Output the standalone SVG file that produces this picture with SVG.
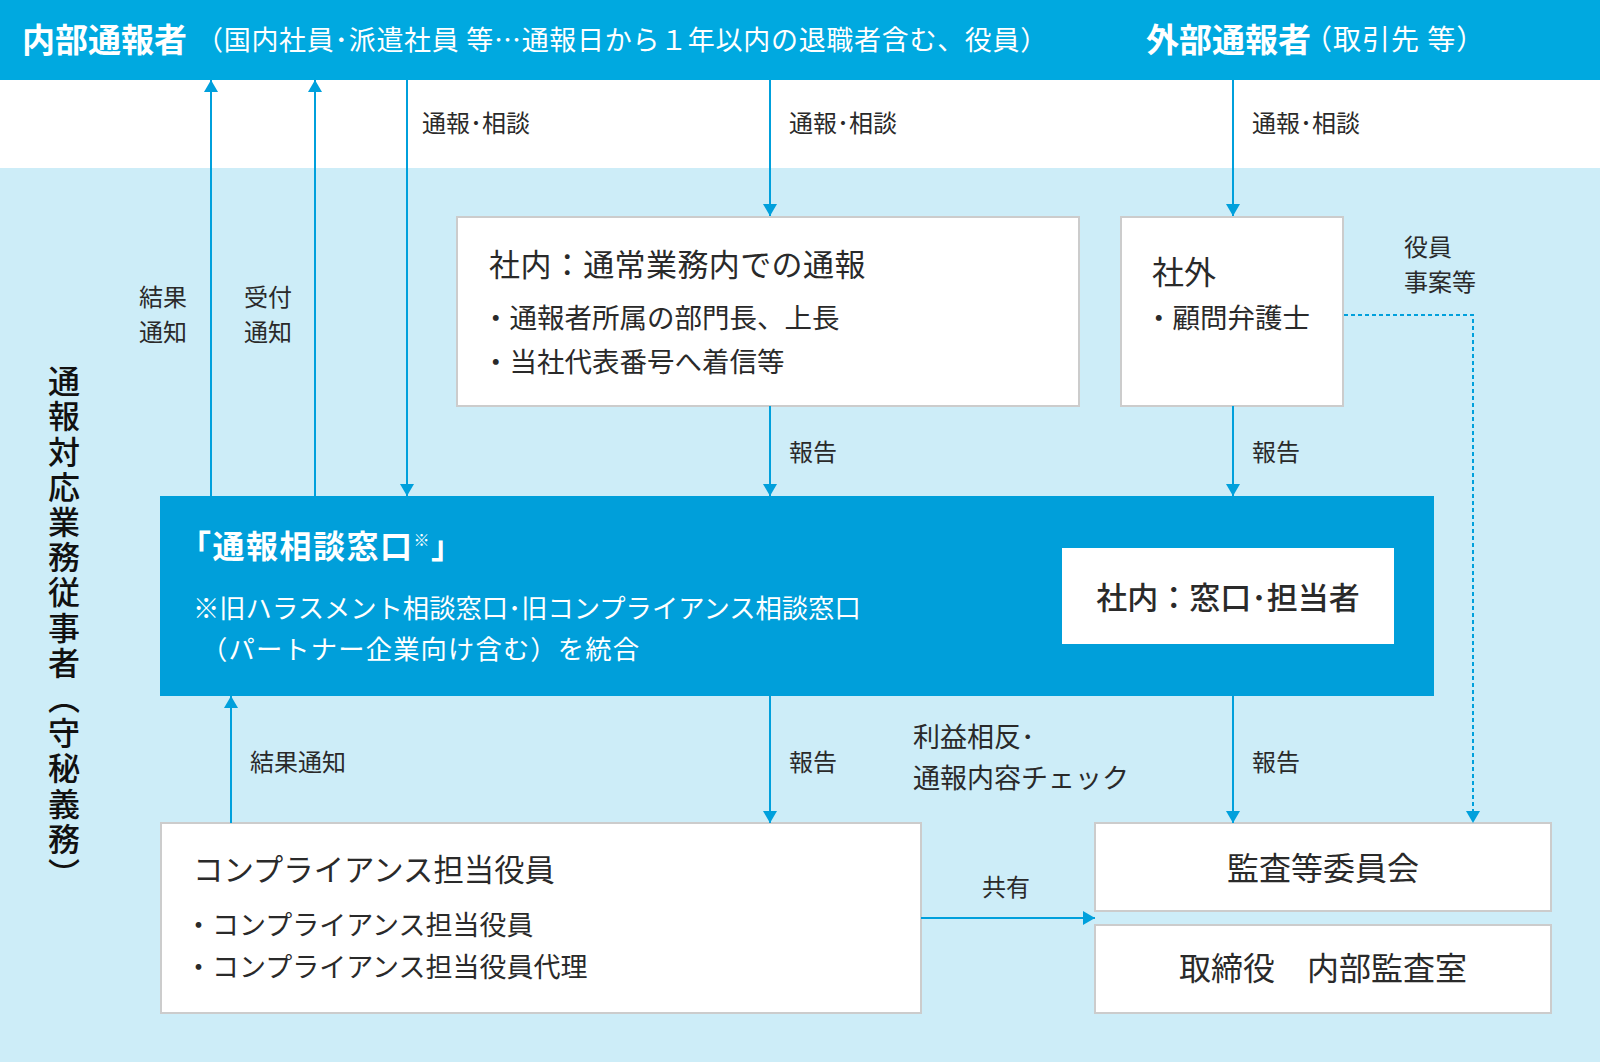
<svg xmlns="http://www.w3.org/2000/svg" width="1600" height="1062" viewBox="0 0 1600 1062">
<style>
text { font-family: "Noto Sans CJK JP", "Noto Sans", sans-serif; fill: #2a2a2a; }
.w { fill: #ffffff; }
.b { font-weight: 700; }
.lbl { font-size: 24px; }
.ttl { font-size: 31px; letter-spacing: 0.4px; }
.bul { font-size: 27.5px; }
.bul2 { font-size: 27px; }
.box { fill: #ffffff; stroke: #cccccc; stroke-width: 2; }
.ln { stroke: #00a0dc; stroke-width: 2; fill: none; }
.dot { stroke: #00a0dc; stroke-width: 2; fill: none; stroke-dasharray: 4 3; }
</style>
<defs>
<marker id="ah" viewBox="0 0 12 14" refX="12" refY="7" markerWidth="12" markerHeight="14" markerUnits="userSpaceOnUse" orient="auto">
<path d="M0,0 L12,7 L0,14 z" fill="#00a0dc"/>
</marker>
</defs>

<g id="background">
<rect x="0" y="0" width="1600" height="80" fill="#00a9e0"/>
<rect x="0" y="80" width="1600" height="88" fill="#ffffff"/>
<rect x="0" y="168" width="1600" height="894" fill="#cdedf8"/>
</g>

<g id="header-internal">
<text x="22" y="52" class="w b" font-size="33">内部通報者</text>
<text x="196" y="50" class="w" font-size="27" letter-spacing="0.7">（国内社員･派遣社員 等…通報日から１年以内の退職者含む、役員）</text>
</g>
<g id="header-external">
<text x="1146" y="52" class="w b" font-size="33">外部通報者</text>
<text x="1304" y="50" class="w" font-size="28" letter-spacing="1">（取引先 等）</text>
</g>

<g id="staff-label">
<text x="64" y="365" font-size="32" font-weight="500" letter-spacing="3.2" writing-mode="vertical-rl" style="fill:#111111">通報対応業務従事者（守秘義務）</text>
</g>

<g id="node-internal-normal">
<rect class="box" x="457" y="217" width="622" height="189"/>
<text x="489" y="276" class="ttl">社内：通常業務内での通報</text>
<text x="482" y="328" class="bul">・通報者所属の部門長、上長</text>
<text x="482" y="372" class="bul">・当社代表番号へ着信等</text>
</g>

<g id="node-external">
<rect class="box" x="1121" y="217" width="222" height="189"/>
<text x="1152" y="284" font-size="32">社外</text>
<text x="1145" y="328" class="bul">・顧問弁護士</text>
</g>

<g id="node-window">
<rect x="160" y="496" width="1274" height="200" fill="#009fda"/>
<text x="179" y="558" class="w b" font-size="32" letter-spacing="1.5">「通報相談窓口<tspan font-size="16" dy="-12">※</tspan><tspan font-size="32" dy="12">」</tspan></text>
<text x="193" y="618" class="w" font-size="26.3">※旧ハラスメント相談窓口･旧コンプライアンス相談窓口</text>
<text x="201" y="659" class="w" font-size="26.3" letter-spacing="1.15">（パートナー企業向け含む）を統合</text>
</g>

<g id="node-window-staff">
<rect x="1062" y="548" width="332" height="96" fill="#ffffff"/>
<text x="1228" y="609" font-size="31" font-weight="500" text-anchor="middle">社内：窓口･担当者</text>
</g>

<g id="node-compliance">
<rect class="box" x="161" y="823" width="760" height="190"/>
<text x="193" y="881" font-size="30.4">コンプライアンス担当役員</text>
<text x="185" y="935" class="bul2">・コンプライアンス担当役員</text>
<text x="185" y="977" class="bul2">・コンプライアンス担当役員代理</text>
</g>

<g id="node-audit-committee">
<rect class="box" x="1095" y="823" width="456" height="88"/>
<text x="1323" y="880" font-size="32" text-anchor="middle">監査等委員会</text>
</g>

<g id="node-internal-audit">
<rect class="box" x="1095" y="925" width="456" height="88"/>
<text x="1323" y="980" font-size="32" text-anchor="middle">取締役　内部監査室</text>
</g>

<g id="connectors">
<line class="ln" x1="211" y1="496" x2="211" y2="80" marker-end="url(#ah)"/>
<line class="ln" x1="315" y1="496" x2="315" y2="80" marker-end="url(#ah)"/>
<line class="ln" x1="407" y1="80" x2="407" y2="496" marker-end="url(#ah)"/>
<line class="ln" x1="770" y1="80" x2="770" y2="216" marker-end="url(#ah)"/>
<line class="ln" x1="1233" y1="80" x2="1233" y2="216" marker-end="url(#ah)"/>
<line class="ln" x1="770" y1="406" x2="770" y2="496" marker-end="url(#ah)"/>
<line class="ln" x1="1233" y1="406" x2="1233" y2="496" marker-end="url(#ah)"/>
<line class="ln" x1="231" y1="823" x2="231" y2="696" marker-end="url(#ah)"/>
<line class="ln" x1="770" y1="696" x2="770" y2="823" marker-end="url(#ah)"/>
<line class="ln" x1="1233" y1="696" x2="1233" y2="823" marker-end="url(#ah)"/>
<line class="ln" x1="921" y1="918" x2="1095" y2="918" marker-end="url(#ah)"/>
<path class="dot" d="M1344,315 L1473,315 L1473,823" marker-end="url(#ah)"/>

<text x="139" y="306" class="lbl">結果</text>
<text x="139" y="341" class="lbl">通知</text>
<text x="244" y="306" class="lbl">受付</text>
<text x="244" y="341" class="lbl">通知</text>
<text x="422" y="132" class="lbl">通報･相談</text>
<text x="789" y="132" class="lbl">通報･相談</text>
<text x="1252" y="132" class="lbl">通報･相談</text>
<text x="1404" y="256" class="lbl">役員</text>
<text x="1404" y="291" class="lbl">事案等</text>
<text x="789" y="461" class="lbl">報告</text>
<text x="1252" y="461" class="lbl">報告</text>
<text x="250" y="771" class="lbl">結果通知</text>
<text x="789" y="771" class="lbl">報告</text>
<text x="1252" y="771" class="lbl">報告</text>
<text x="913" y="747" font-size="27">利益相反･</text>
<text x="913" y="788" font-size="27">通報内容チェック</text>
<text x="982" y="896" class="lbl">共有</text>
</g>
</svg>
